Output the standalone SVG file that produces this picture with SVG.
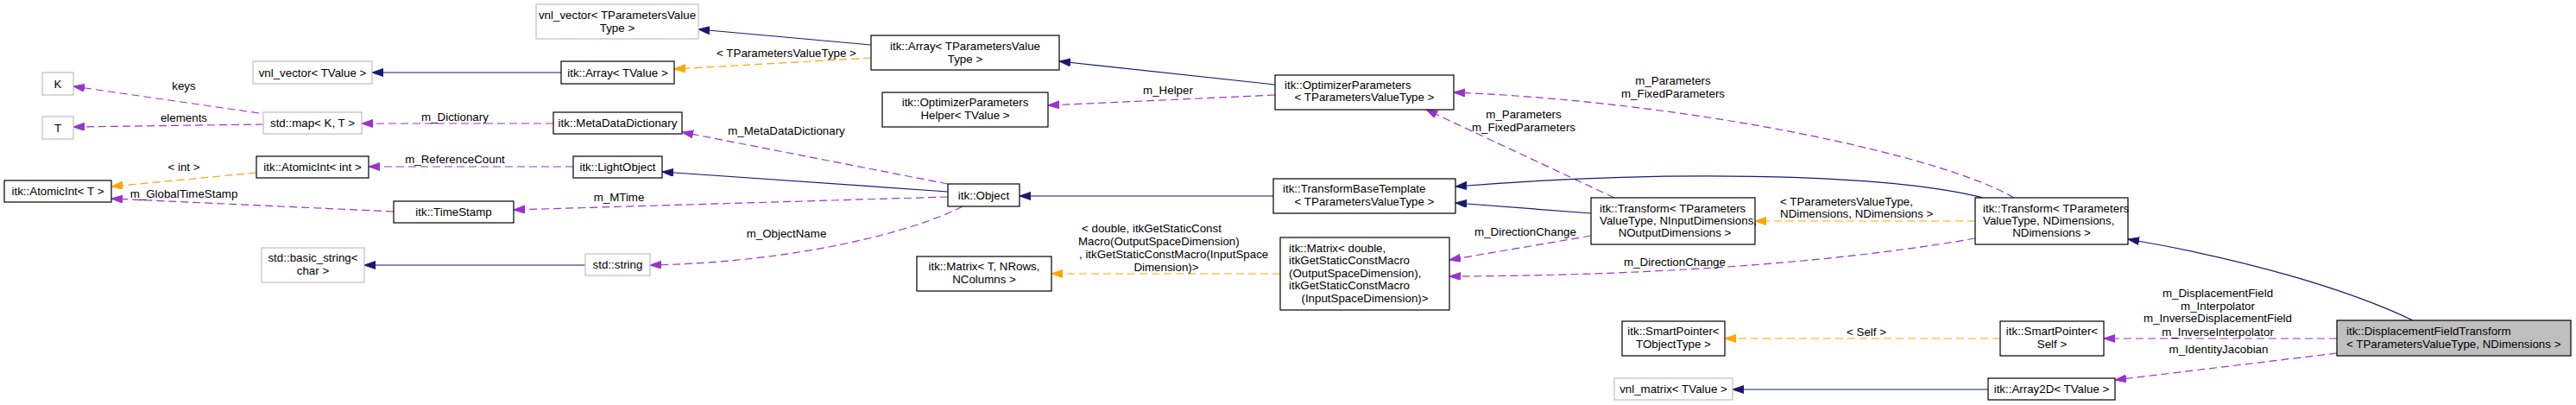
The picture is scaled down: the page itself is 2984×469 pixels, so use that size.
<svg xmlns="http://www.w3.org/2000/svg" width="2984" height="469" viewBox="0 0 2984 469">
<style>
text{font-family:"Liberation Sans",Arial,sans-serif;font-size:13.33px;fill:#000}
.m{text-anchor:middle}
.s{text-anchor:start}
.nb{fill:#fff;stroke:#000;stroke-width:1.2}
.ng{fill:#fff;stroke:#bfbfbf;stroke-width:1.2}
.nf{fill:#bfbfbf;stroke:#000;stroke-width:1.2}
.inh{fill:none;stroke:#191970;stroke-width:1.2;marker-end:url(#ab)}
.use{fill:none;stroke:#9a32cd;stroke-width:1.2;stroke-dasharray:9,5;marker-end:url(#ap)}
.tpl{fill:none;stroke:#ffa500;stroke-width:1.2;stroke-dasharray:9,5;marker-end:url(#ao)}
</style>
<defs>
<marker id="ab" markerUnits="userSpaceOnUse" markerWidth="14" markerHeight="10" refX="13" refY="4.5" orient="auto"><path d="M0,0 L13,4.5 L0,9 z" fill="#191970" stroke="#191970"/></marker>
<marker id="ap" markerUnits="userSpaceOnUse" markerWidth="14" markerHeight="10" refX="13" refY="4.5" orient="auto"><path d="M0,0 L13,4.5 L0,9 z" fill="#9a32cd" stroke="#9a32cd"/></marker>
<marker id="ao" markerUnits="userSpaceOnUse" markerWidth="14" markerHeight="10" refX="13" refY="4.5" orient="auto"><path d="M0,0 L13,4.5 L0,9 z" fill="#ffa500" stroke="#ffa500"/></marker>
</defs>
<rect width="2984" height="469" fill="#fff"/>
<g id="connectors">
<path class="inh" d="M650,84 L431,84"/>
<path class="inh" d="M1009,52 L809,34"/>
<path class="tpl" d="M1009,67 L781,80"/>
<text class="m" x="911" y="65.5">&lt; TParametersValueType &gt;</text>
<path class="inh" d="M1477,98 L1227,71"/>
<path class="use" d="M1477,110 L1214,122"/>
<text class="m" x="1353" y="108.5">m_Helper</text>
<path class="use" d="M300,131 L85,100"/>
<text class="m" x="213" y="103.5">keys</text>
<path class="use" d="M305,144 L85,147"/>
<text class="m" x="213" y="140.5">elements</text>
<path class="use" d="M641,143 L419,143"/>
<text class="m" x="527" y="139.5">m_Dictionary</text>
<path class="tpl" d="M297,200 L129,216"/>
<text class="m" x="213" y="197.5">&lt; int &gt;</text>
<path class="use" d="M664,193 L427,193"/>
<text class="m" x="527" y="188.5">m_ReferenceCount</text>
<path class="use" d="M456,245 L129,230"/>
<text class="m" x="213" y="228.5">m_GlobalTimeStamp</text>
<path class="use" d="M1098,213 L790,153"/>
<text class="m" x="911" y="155.5">m_MetaDataDictionary</text>
<path class="inh" d="M1098,222 L767,199"/>
<path class="use" d="M1098,228 L595,243"/>
<text class="m" x="717" y="232.5">m_MTime</text>
<path class="use" d="M1115,239 C1060,268 920,304 753,307"/>
<text class="m" x="911" y="274.5">m_ObjectName</text>
<path class="inh" d="M678,307 L422,307"/>
<path class="inh" d="M1475,227 L1181,227"/>
<path class="use" d="M1870,229 L1652,127"/>
<text class="m" x="1765" y="136.5">m_Parameters</text>
<text class="m" x="1765" y="151.5">m_FixedParameters</text>
<path class="use" d="M2333,229 C2250,180 1960,118 1684,107"/>
<text class="m" x="1938" y="97.5">m_Parameters</text>
<text class="m" x="1938" y="112.5">m_FixedParameters</text>
<path class="inh" d="M2297,229 C2200,204 1960,194 1686,216"/>
<path class="inh" d="M1843,247 L1686,235"/>
<path class="tpl" d="M2288,256 L2033,256"/>
<text class="s" x="2062" y="237.5">&lt; TParametersValueType,</text>
<text class="s" x="2062" y="251.5">NDimensions, NDimensions &gt;</text>
<path class="use" d="M1843,273 L1679,301"/>
<text class="m" x="1767" y="272.5">m_DirectionChange</text>
<path class="use" d="M2288,276 C2150,300 1950,319 1679,320"/>
<text class="m" x="1940" y="307.5">m_DirectionChange</text>
<path class="tpl" d="M1483,317 L1218,317"/>
<text class="s" x="1253" y="268.5">&lt; double, itkGetStaticConst</text>
<text class="s" x="1249" y="283.5">Macro(OutputSpaceDimension)</text>
<text class="s" x="1250" y="298.5">, itkGetStaticConstMacro(InputSpace</text>
<text class="m" x="1351" y="313.5">Dimension)&gt;</text>
<path class="tpl" d="M2317,392 L1998,392"/>
<text class="m" x="2162" y="388.5">&lt; Self &gt;</text>
<path class="use" d="M2707,392 L2437,392"/>
<text class="m" x="2569" y="343.5">m_DisplacementField</text>
<text class="m" x="2569" y="358.5">m_Interpolator</text>
<text class="m" x="2569" y="372.5">m_InverseDisplacementField</text>
<text class="m" x="2569" y="388.5">m_InverseInterpolator</text>
<path class="use" d="M2707,409 L2450,440"/>
<text class="m" x="2570" y="408.5">m_IdentityJacobian</text>
<path class="inh" d="M2303,451 L2007,451"/>
<path class="inh" d="M2795,371 C2720,335 2600,300 2465,277"/>
</g>
<g id="n_vnl_vector_tpvt"><rect class="ng" x="621" y="5" width="188" height="40"/><text class="m" x="715" y="22">vnl_vector&lt; TParametersValue</text><text class="m" x="715" y="37">Type &gt;</text></g>
<g id="n_array_tpvt"><rect class="nb" x="1009" y="41" width="218" height="40"/><text class="m" x="1118" y="58">itk::Array&lt; TParametersValue</text><text class="m" x="1118" y="73">Type &gt;</text></g>
<g id="n_vnl_vector_tvalue"><rect class="ng" x="293" y="71" width="138" height="26"/><text class="m" x="362" y="88.5">vnl_vector&lt; TValue &gt;</text></g>
<g id="n_array_tvalue"><rect class="nb" x="650" y="71" width="131" height="26"/><text class="m" x="715.5" y="88.5">itk::Array&lt; TValue &gt;</text></g>
<g id="n_K"><rect class="ng" x="49" y="84" width="36" height="26"/><text class="m" x="67" y="101.5">K</text></g>
<g id="n_T"><rect class="ng" x="49" y="135" width="36" height="26"/><text class="m" x="67" y="152.5">T</text></g>
<g id="n_std_map"><rect class="ng" x="305" y="130" width="114" height="25"/><text class="m" x="362" y="147">std::map&lt; K, T &gt;</text></g>
<g id="n_metadatadictionary"><rect class="nb" x="641" y="130" width="149" height="25"/><text class="m" x="715.5" y="147">itk::MetaDataDictionary</text></g>
<g id="n_optparamhelper"><rect class="nb" x="1022" y="107" width="192" height="40"/><text class="m" x="1118" y="123">itk::OptimizerParameters</text><text class="m" x="1118" y="138">Helper&lt; TValue &gt;</text></g>
<g id="n_optparam"><rect class="nb" x="1477" y="87" width="207" height="40"/><text class="s" x="1488" y="103">itk::OptimizerParameters</text><text class="m" x="1580.5" y="117">&lt; TParametersValueType &gt;</text></g>
<g id="n_atomicint_int"><rect class="nb" x="297" y="181" width="130" height="25"/><text class="m" x="362" y="198">itk::AtomicInt&lt; int &gt;</text></g>
<g id="n_lightobject"><rect class="nb" x="664" y="181" width="103" height="25"/><text class="m" x="715.5" y="198">itk::LightObject</text></g>
<g id="n_atomicint_t"><rect class="nb" x="5" y="209" width="124" height="25"/><text class="m" x="67" y="226">itk::AtomicInt&lt; T &gt;</text></g>
<g id="n_timestamp"><rect class="nb" x="456" y="233" width="139" height="25"/><text class="m" x="525.5" y="250">itk::TimeStamp</text></g>
<g id="n_object"><rect class="nb" x="1098" y="213" width="83" height="26"/><text class="m" x="1139.5" y="230.5">itk::Object</text></g>
<g id="n_transformbase"><rect class="nb" x="1475" y="207" width="211" height="40"/><text class="s" x="1486" y="223">itk::TransformBaseTemplate</text><text class="m" x="1580.5" y="238">&lt; TParametersValueType &gt;</text></g>
<g id="n_transform_inout"><rect class="nb" x="1843" y="229" width="190" height="54"/><text class="s" x="1853" y="245.5">itk::Transform&lt; TParameters</text><text class="s" x="1853" y="259.5">ValueType, NInputDimensions,</text><text class="m" x="1940" y="273.5">NOutputDimensions &gt;</text></g>
<g id="n_transform_nd"><rect class="nb" x="2288" y="229" width="177" height="54"/><text class="s" x="2297" y="245.5">itk::Transform&lt; TParameters</text><text class="s" x="2297" y="259.5">ValueType, NDimensions,</text><text class="m" x="2376.5" y="273.5">NDimensions &gt;</text></g>
<g id="n_basic_string"><rect class="ng" x="303" y="287" width="119" height="40"/><text class="m" x="362.5" y="303">std::basic_string&lt;</text><text class="m" x="362.5" y="318">char &gt;</text></g>
<g id="n_std_string"><rect class="ng" x="678" y="294" width="75" height="25"/><text class="m" x="715.5" y="311">std::string</text></g>
<g id="n_matrix_t"><rect class="nb" x="1062" y="297" width="156" height="40"/><text class="m" x="1140" y="313">itk::Matrix&lt; T, NRows,</text><text class="m" x="1140" y="328">NColumns &gt;</text></g>
<g id="n_matrix_double"><rect class="nb" x="1483" y="275" width="196" height="84"/><text class="s" x="1493" y="291.5">itk::Matrix&lt; double,</text><text class="s" x="1493" y="305.5"> itkGetStaticConstMacro</text><text class="s" x="1493" y="320.5">(OutputSpaceDimension),</text><text class="s" x="1493" y="334.5"> itkGetStaticConstMacro</text><text class="m" x="1581" y="349.5">(InputSpaceDimension)&gt;</text></g>
<g id="n_smartpointer_tobj"><rect class="nb" x="1879" y="372" width="119" height="40"/><text class="m" x="1938.5" y="388">itk::SmartPointer&lt;</text><text class="m" x="1938.5" y="403">TObjectType &gt;</text></g>
<g id="n_smartpointer_self"><rect class="nb" x="2317" y="372" width="120" height="40"/><text class="m" x="2377" y="388">itk::SmartPointer&lt;</text><text class="m" x="2377" y="403">Self &gt;</text></g>
<g id="n_vnl_matrix"><rect class="ng" x="1870" y="438" width="137" height="25"/><text class="m" x="1938.5" y="455">vnl_matrix&lt; TValue &gt;</text></g>
<g id="n_array2d"><rect class="nb" x="2303" y="438" width="147" height="25"/><text class="m" x="2376.5" y="455">itk::Array2D&lt; TValue &gt;</text></g>
<g id="n_dft"><rect class="nf" x="2707" y="371" width="271" height="41"/><text class="s" x="2718" y="387.5">itk::DisplacementFieldTransform</text><text class="s" x="2718" y="402.5">&lt; TParametersValueType, NDimensions &gt;</text></g>
</svg>
